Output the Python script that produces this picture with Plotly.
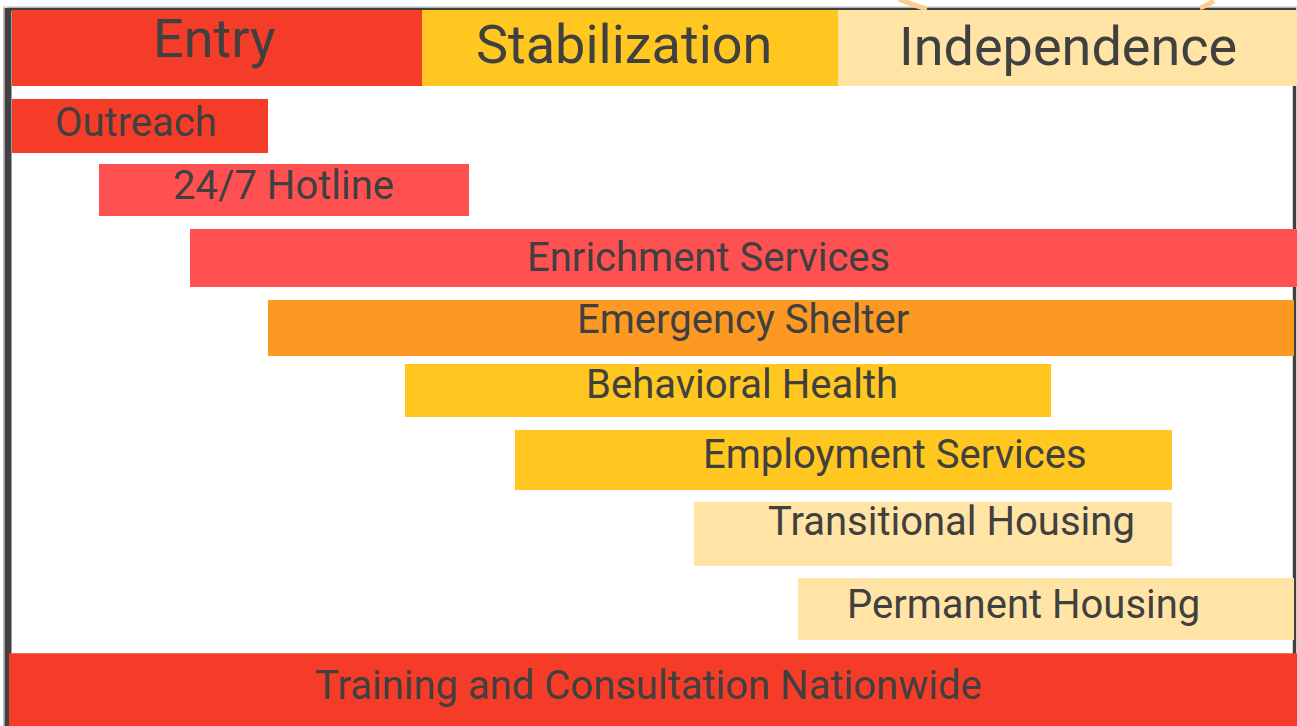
import plotly.graph_objects as go

# ---------------- data ----------------
phases = ["Entry", "Stabilization", "Independence"]
phase_start = [12, 422, 838]
phase_end = [422, 838, 1297]

services = ["Outreach", "24/7 Hotline", "Enrichment Services", "Emergency Shelter",
            "Behavioral Health", "Employment Services", "Transitional Housing",
            "Permanent Housing", "Training and Consultation Nationwide"]
service_start = [12, 99, 190, 268, 405, 515, 694, 798, 9]
service_end = [268, 469, 1297, 1294, 1051, 1172, 1172, 1294, 1297]

# ---------------- styles / layout ----------------
phase_colors = ["#F53C28", "#FFC71F", "#FFE4A6"]
service_colors = ["#F53C28", "#FF5151", "#FF5151", "#FC9922", "#FFC71F",
                  "#FFC71F", "#FFE4A6", "#FFE4A6", "#F53C28"]
track_pos = [1.094, 1.991, 2.944, 3.925, 4.80, 5.776, 6.813, 7.865, 9.0]
track_width = [0.757, 0.729, 0.813, 0.785, 0.743, 0.841, 0.897, 0.869, 1.03]
label_x = [136, 283, 708, 743, 742, 895, 951, 1023, 648]
label_shift = [4, 5, 1, 8, 6, 6, 12, 5, 4]
phase_label_x = [214, 624, 1068]
phase_label_shift = [10, 4, 2]

TEXT = "#404040"
FONT = "Roboto"

fig = go.Figure()

fig.add_trace(go.Bar(
    orientation="h",
    y=[0] * len(phases),
    x=[e - s for s, e in zip(phase_start, phase_end)],
    base=phase_start,
    width=[1.066] * len(phases),
    marker=dict(color=phase_colors, line=dict(width=0)),
    hoverinfo="skip",
    showlegend=False,
))

fig.add_trace(go.Bar(
    orientation="h",
    y=track_pos,
    x=[e - s for s, e in zip(service_start, service_end)],
    base=service_start,
    width=track_width,
    marker=dict(color=service_colors, line=dict(width=0)),
    hoverinfo="skip",
    showlegend=False,
))

annotations = []
for name, lx, sh in zip(phases, phase_label_x, phase_label_shift):
    annotations.append(dict(x=lx, y=0, xref="x", yref="y", text=name, showarrow=False,
                            yshift=sh, font=dict(family=FONT, size=54, color=TEXT)))
for name, lx, yp, sh in zip(services, label_x, track_pos, label_shift):
    annotations.append(dict(x=lx, y=yp, xref="x", yref="y", text=name, showarrow=False,
                            yshift=sh, font=dict(family=FONT, size=40, color=TEXT)))

W, H = 1297, 726
px = lambda v: v / W
py = lambda v: 1 - v / H

shapes = [
    # faint outer edge
    dict(type="rect", xref="paper", yref="paper", x0=px(3.5), x1=px(1297.5), y0=py(760), y1=py(7),
         line=dict(color="#BDBDBD", width=1), layer="below"),
    # frame
    dict(type="rect", xref="paper", yref="paper", x0=px(9), x1=px(1294.5), y0=py(760), y1=py(9.5),
         line=dict(color="#404040", width=3.5), layer="below"),
    # thick left edge
    dict(type="rect", xref="paper", yref="paper", x0=px(4.5), x1=px(11.5), y0=py(760), y1=py(8),
         fillcolor="#404040", line=dict(width=0), layer="below"),
    # decorative arcs peeking above the frame
    dict(type="path", xref="paper", yref="paper",
         path=f"M {px(899)} {py(-1)} Q {px(912)} {py(5)} {px(927)} {py(9)}",
         line=dict(color="#FFCB8C", width=5), layer="below"),
    dict(type="path", xref="paper", yref="paper",
         path=f"M {px(1200)} {py(8)} Q {px(1208)} {py(5)} {px(1214)} {py(1)}",
         line=dict(color="#FFCB8C", width=5), layer="below"),
]

fig.update_layout(
    width=W, height=H,
    margin=dict(l=0, r=0, t=0, b=0),
    paper_bgcolor="white",
    plot_bgcolor="white",
    barmode="overlay",
    xaxis=dict(range=[0, W], visible=False, fixedrange=True),
    yaxis=dict(range=[9.505, -0.673], visible=False, fixedrange=True),
    annotations=annotations,
    shapes=shapes,
    showlegend=False,
)

fig.write_html("out.html", config={"displayModeBar": False},
               post_script="document.body.style.margin='0';document.body.style.overflow='hidden';")
